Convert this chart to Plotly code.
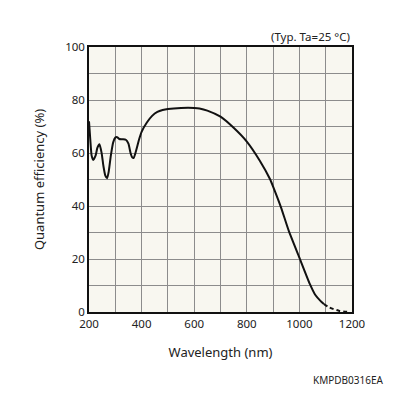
import plotly.graph_objects as go

# Quantum efficiency (%) vs wavelength (nm) - solid part
wl_solid = [200, 205, 210, 216, 225, 232, 240, 248, 255, 262, 269, 275, 283, 292, 300, 307,
            315, 328, 340, 350, 358, 365, 370, 378, 390, 400, 420, 440, 460, 480, 500, 550,
            600, 620, 650, 700, 750, 800, 850, 889, 900, 930, 960, 1000, 1040, 1060, 1080, 1093]
qe_solid = [72, 65, 59, 57.4, 59, 62, 63.3, 60, 55, 51.5, 50.5, 53, 59, 64, 65.8, 66,
            65.3, 65.2, 65, 63.5, 60, 58.3, 58.2, 60.5, 65, 68, 71.5, 74, 75.5, 76.2, 76.6, 77,
            77, 76.8, 76, 73.7, 69.5, 64.3, 57, 50, 47.3, 39.5, 30.5, 20.5, 10.5, 6.5, 4.2, 3]
# dashed extrapolated tail
wl_dash = [1093, 1112, 1150, 1188]
qe_dash = [3, 1.8, 0.5, 0]

x_ticks = list(range(200, 1201, 100))
x_text = [str(v) if v % 200 == 0 else "" for v in x_ticks]
y_ticks = list(range(0, 101, 10))
y_text = [str(v) if v % 20 == 0 else "" for v in y_ticks]

font_family = "Noto Sans, DejaVu Sans, sans-serif"

# page body has an 8px margin; figure is sized/offset to compensate
W, H = 380, 380
OFF = 8
L, T = 89 - OFF, 47 - OFF
R = OFF + W - 352
B = OFF + H - 312

fig = go.Figure()
fig.add_trace(go.Scatter(x=wl_solid, y=qe_solid, mode="lines",
                         line=dict(color="#111111", width=2, shape="spline", smoothing=0.5),
                         showlegend=False, hoverinfo="skip"))
fig.add_trace(go.Scatter(x=wl_dash, y=qe_dash, mode="lines",
                         line=dict(color="#111111", width=2, dash="4px,3px", shape="spline"),
                         showlegend=False, hoverinfo="skip"))

fig.update_layout(
    width=W, height=H,
    margin=dict(l=L, r=R, t=T, b=B),
    paper_bgcolor="white",
    plot_bgcolor="#f8f7f0",
    font=dict(family=font_family, size=11, color="#222222"),
    xaxis=dict(range=[200, 1200], tickvals=x_ticks, ticktext=x_text,
               showgrid=True, gridcolor="#8c8c8c", gridwidth=1,
               showline=True, linecolor="#111111", linewidth=1.5, mirror=True,
               ticks="", zeroline=False, tickfont=dict(size=11.5),
               title=dict(text="Wavelength (nm)", font=dict(size=13), standoff=18)),
    yaxis=dict(range=[0, 100], tickvals=y_ticks, ticktext=y_text,
               showgrid=True, gridcolor="#8c8c8c", gridwidth=1,
               showline=True, linecolor="#111111", linewidth=1.5, mirror=True,
               ticks="", zeroline=False, tickfont=dict(size=11.5),
               title=dict(text="Quantum efficiency (%)", font=dict(size=13), standoff=18)),
    annotations=[
        dict(text="(Typ. Ta=25 °C)", x=1, y=1, xref="paper", yref="paper",
             xanchor="right", yanchor="bottom", yshift=1, showarrow=False,
             font=dict(size=11.5, color="#222222")),
        dict(text="KMPDB0316EA", x=(386 - 89) / (352 - 89), y=-(380 - 312) / (312 - 47),
             xref="paper", yref="paper", xanchor="right", yanchor="middle",
             showarrow=False, font=dict(size=10, color="#222222")),
    ],
)

fig.write_html("out.html")
